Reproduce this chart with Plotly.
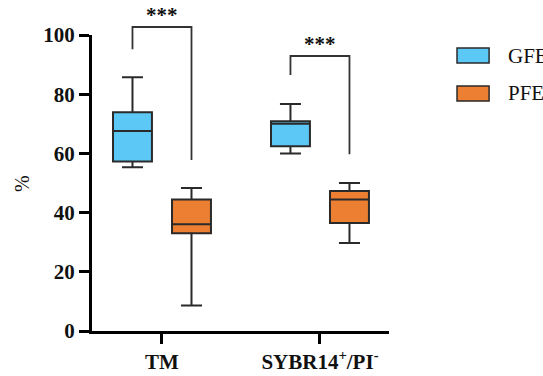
import plotly.graph_objects as go

categories = ["TM", "SYBR14<sup>+</sup>/PI<sup>-</sup>"]
series_names = ["GFE", "PFE"]
series_colors = ["#5CC8F5", "#EC7F32"]

# box statistics per series: [TM, SYBR]
gfe_lower = [55.3, 60.0]
gfe_q1 = [57.3, 62.4]
gfe_median = [67.6, 70.0]
gfe_q3 = [73.9, 70.9]
gfe_upper = [85.7, 76.7]

pfe_lower = [8.6, 29.7]
pfe_q1 = [33.0, 36.5]
pfe_median = [36.1, 44.4]
pfe_q3 = [44.4, 47.3]
pfe_upper = [48.3, 50.0]

# significance brackets: [left leg bottom, top, right leg bottom]
bracket_left = [95.2, 86.5]
bracket_top = [102.7, 92.9]
bracket_right = [57.8, 59.7]
sig_labels = ["***", "***"]
y_ticks = [0, 20, 40, 60, 80, 100]

FONT = "Liberation Serif"
BOXGAP = 0.253
BOXGROUPGAP = 0.34
offset = 0.25 * (1 - BOXGAP)

fig = go.Figure()
stats = [
    (gfe_lower, gfe_q1, gfe_median, gfe_q3, gfe_upper),
    (pfe_lower, pfe_q1, pfe_median, pfe_q3, pfe_upper),
]
for name, color, (lo, q1, md, q3, up) in zip(series_names, series_colors, stats):
    fig.add_trace(go.Box(
        name=name, x=categories, lowerfence=lo, q1=q1, median=md, q3=q3,
        upperfence=up, fillcolor=color, line=dict(color="#2a2a2a", width=2),
        whiskerwidth=0.54, boxpoints=False, showlegend=False,
    ))

Y0 = 0
Y1 = 100
def py(v):
    return (v - Y0) / (Y1 - Y0)

shapes = []
annotations = []
for i, (l, t, r, s) in enumerate(zip(bracket_left, bracket_top, bracket_right, sig_labels)):
    xl = i - offset
    xr = i + offset
    path = f"M {xl},{py(l)} L {xl},{py(t)} L {xr},{py(t)} L {xr},{py(r)}"
    shapes.append(dict(type="path", path=path, xref="x", yref="paper",
                       line=dict(color="#333333", width=1.8)))
    annotations.append(dict(x=i, y=py(t) - 0.006, xref="x", yref="paper",
                            text=s, showarrow=False, yanchor="bottom",
                            font=dict(family=FONT, size=21, color="#111", weight="bold")))

# legend drawn manually
leg_y = [(0.956, 0.905), (0.828, 0.777)]
for name, color, (ya, yb) in zip(series_names, series_colors, leg_y):
    shapes.append(dict(type="rect", xref="paper", yref="paper", x0=1.229, x1=1.337,
                       y0=yb, y1=ya, fillcolor=color, line=dict(color="#2a2a2a", width=1.5)))
    annotations.append(dict(x=1.394, y=(ya + yb) / 2, xref="paper", yref="paper",
                            text=name, showarrow=False, xanchor="left", yanchor="middle",
                            font=dict(family=FONT, size=21, color="#111111")))

annotations.append(dict(x=-0.236, y=0.5, xref="paper", yref="paper", text="%",
                        textangle=-90, showarrow=False, xanchor="center", yanchor="middle",
                        font=dict(family=FONT, size=20, color="#111111")))

tickfont = dict(family=FONT, size=21, color="#111111", weight="bold")
fig.update_layout(
    width=543, height=376,
    margin=dict(l=92, r=154, t=35, b=45),
    paper_bgcolor="white", plot_bgcolor="white",
    boxmode="group", boxgap=BOXGAP, boxgroupgap=BOXGROUPGAP,
    shapes=shapes, annotations=annotations,
    xaxis=dict(type="category", range=[-0.443, 1.437], showline=True, linecolor="black",
               linewidth=3, ticks="outside", ticklen=10, tickwidth=3, tickcolor="black",
               showgrid=False, zeroline=False, automargin=False,
               tickfont=tickfont, fixedrange=True),
    yaxis=dict(range=[Y0, Y1], tickvals=y_ticks, showline=True, linecolor="black",
               linewidth=3, ticks="outside", ticklen=10, tickwidth=3, tickcolor="black",
               showgrid=False, zeroline=False, automargin=False,
               tickfont=tickfont, fixedrange=True),
    font=dict(family=FONT),
)

fig.write_html("out.html")
